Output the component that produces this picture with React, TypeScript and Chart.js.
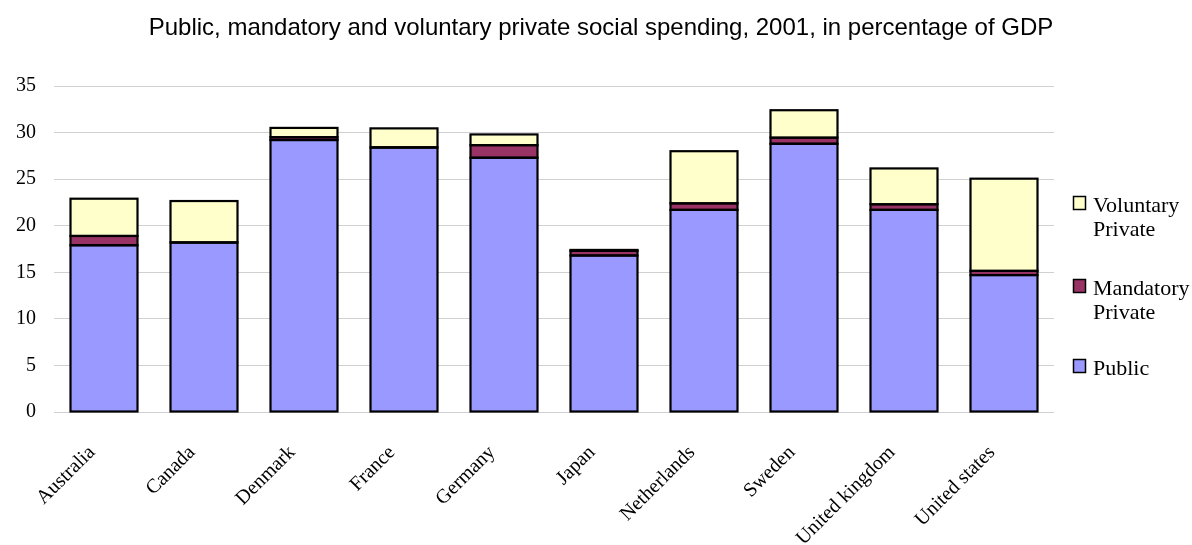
import React, { useEffect, useRef } from "react";
import { Chart, registerables } from "chart.js";

Chart.register(...registerables);

const categories = [
  "Australia",
  "Canada",
  "Denmark",
  "France",
  "Germany",
  "Japan",
  "Netherlands",
  "Sweden",
  "United kingdom",
  "United states",
];
const publicVals = [17.9, 18.2, 29.2, 28.4, 27.3, 16.8, 21.7, 28.8, 21.7, 14.7];
const mandatoryVals = [1.0, 0, 0.3, 0, 1.35, 0.5, 0.7, 0.65, 0.6, 0.45];
const voluntaryVals = [4.0, 4.45, 1.0, 2.05, 1.15, 0.1, 5.6, 2.95, 3.85, 9.9];
const titleText =
  "Public, mandatory and voluntary private social spending, 2001, in percentage of GDP";
const legendItems = [
  { lines: ["Voluntary", "Private"], color: "#FFFFCC" },
  { lines: ["Mandatory", "Private"], color: "#993366" },
  { lines: ["Public"], color: "#9999FF" },
];

const W = 1192;
const H = 545;
const SERIF = '"Liberation Serif", "Times New Roman", serif';

const outlinePlugin = {
  id: "barOutlines",
  afterDatasetsDraw(chart: any) {
    const ctx = chart.ctx;
    ctx.save();
    ctx.strokeStyle = "#000";
    ctx.lineWidth = 2.2;
    chart.data.datasets.forEach((_: any, di: number) => {
      const meta = chart.getDatasetMeta(di);
      meta.data.forEach((bar: any) => {
        const p = bar.getProps(["x", "y", "base", "width"], true);
        const left = p.x - p.width / 2;
        const top = Math.min(p.y, p.base);
        const h = Math.abs(p.base - p.y);
        ctx.strokeRect(left, top, p.width, h);
      });
    });
    ctx.restore();
  },
};

const decorPlugin = {
  id: "customDecor",
  afterDraw(chart: any) {
    const ctx = chart.ctx;
    ctx.save();
    ctx.fillStyle = "#000";
    ctx.font = '24px "Liberation Sans", Arial, sans-serif';
    ctx.textAlign = "center";
    ctx.textBaseline = "alphabetic";
    ctx.fillText(titleText, 601, 35);

    ctx.font = "22px " + SERIF;
    ctx.textAlign = "left";
    const baselines = [212, 295, 375];
    legendItems.forEach((item, i) => {
      const b = baselines[i];
      ctx.fillStyle = item.color;
      ctx.fillRect(1073.5, b - 15.5, 12, 13);
      ctx.strokeStyle = "#000";
      ctx.lineWidth = 1.5;
      ctx.strokeRect(1073.5, b - 15.5, 12, 13);
      ctx.fillStyle = "#000";
      item.lines.forEach((ln, j) => {
        ctx.fillText(ln, 1093, b + j * 23.5);
      });
    });
    ctx.restore();
  },
};

export default function App() {
  const ref = useRef<HTMLCanvasElement | null>(null);
  useEffect(() => {
    if (!ref.current) return;
    const common = { borderWidth: 0 };
    const chart = new Chart(ref.current, {
      type: "bar",
      data: {
        labels: categories,
        datasets: [
          { label: "Public", data: publicVals, backgroundColor: "#9999FF", ...common },
          { label: "Mandatory Private", data: mandatoryVals, backgroundColor: "#993366", ...common },
          { label: "Voluntary Private", data: voluntaryVals, backgroundColor: "#FFFFCC", ...common },
        ],
      },
      options: {
        responsive: false,
        animation: false,
        layout: { padding: { left: 0, right: W - 1054, top: 86, bottom: 0 } },
        plugins: {
          legend: { display: false },
          title: { display: false },
          tooltip: { enabled: false },
        },
        datasets: { bar: { barPercentage: 0.67, categoryPercentage: 1 } },
        scales: {
          x: {
            stacked: true,
            grid: { display: false },
            border: { display: false },
            afterFit: (s: any) => {
              s.height = H - 412;
            },
            ticks: {
              color: "#000",
              font: { family: SERIF, size: 20 },
              maxRotation: 45,
              minRotation: 45,
              autoSkip: false,
              labelOffset: -12,
              padding: 21,
            },
          },
          y: {
            stacked: true,
            min: 0,
            max: 35,
            border: { display: false },
            grid: { color: "#d0d0d0", drawTicks: false, lineWidth: 1 },
            afterFit: (s: any) => {
              s.width = 54;
            },
            ticks: {
              stepSize: 5,
              color: "#000",
              font: { family: SERIF, size: 20 },
              padding: 18,
            },
          },
        },
      },
      plugins: [outlinePlugin, decorPlugin],
    });
    return () => chart.destroy();
  }, []);
  return (
    <div style={{ position: "fixed", left: 0, top: 0, width: W, height: H, overflow: "hidden" }}>
      <canvas ref={ref} width={W} height={H} style={{ width: W, height: H, display: "block" }} />
    </div>
  );
}
